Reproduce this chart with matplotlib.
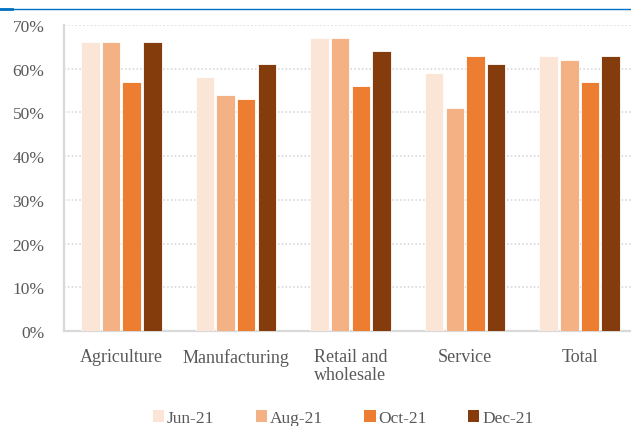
import matplotlib
matplotlib.use("Agg")
import matplotlib.pyplot as plt
from matplotlib.lines import Line2D
from matplotlib.patches import Patch
import numpy as np

categories = ["Agriculture", "Manufacturing", "Retail and\nwholesale", "Service", "Total"]
series_names = ["Jun-21", "Aug-21", "Oct-21", "Dec-21"]
jun_21 = [66, 58, 67, 59, 63]
aug_21 = [66, 54, 67, 51, 62]
oct_21 = [57, 53, 56, 63, 57]
dec_21 = [66, 61, 64, 61, 63]
y_ticks = [0, 10, 20, 30, 40, 50, 60, 70]

colors = ["#FBE5D6", "#F4B183", "#ED7D31", "#843C0C"]
label_color = "#595959"
plt.rcParams["font.family"] = ["Liberation Serif", "DejaVu Serif"]

fig = plt.figure(figsize=(6.31, 4.27), dpi=100)
ax = fig.add_axes([64 / 631, 95 / 427, 573 / 631, 306 / 427])

x = np.arange(len(categories))
pitch = 0.18
width = 0.162
all_series = [jun_21, aug_21, oct_21, dec_21]
for i, (vals, col) in enumerate(zip(all_series, colors)):
    offs = (i - 1.5) * pitch
    ax.bar(x + offs, vals, width=width, color=col, edgecolor="white",
           linewidth=0.6, zorder=3)

ax.set_xlim(-0.5, len(categories) - 0.5)
ax.set_ylim(0, 70)
ax.set_yticks(y_ticks)
ax.set_yticklabels([f"{t}%" for t in y_ticks])
ax.set_xticks(x)
ax.set_xticklabels(categories, linespacing=1.1, multialignment="center")

ax.yaxis.grid(True, linestyle=(0, (1, 1.5)), color="#D3D3D3", linewidth=1.1, zorder=0)
ax.set_axisbelow(True)
for s in ["top", "right"]:
    ax.spines[s].set_visible(False)
for s in ["left", "bottom"]:
    ax.spines[s].set_color("#D9D9D9")
    ax.spines[s].set_linewidth(1.6)

ax.tick_params(axis="y", length=0, labelsize=12.5, labelcolor=label_color, pad=14)
ax.tick_params(axis="x", length=0, labelsize=13, labelcolor=label_color, pad=12)

handles = [Patch(facecolor=c, edgecolor="none") for c in colors]
fig.legend(handles, series_names, loc="center", bbox_to_anchor=(343 / 631, 1 - 419 / 427),
           ncol=4, frameon=False, fontsize=12.5, handlelength=0.65, handleheight=0.65,
           handletextpad=0.15, columnspacing=2.4, labelcolor=label_color)

# header rule across the top
fig.add_artist(Line2D([0, 1], [1 - 9.5 / 427] * 2, color="#0070C0", linewidth=1.0,
                      transform=fig.transFigure))
fig.add_artist(Line2D([0, 12 / 631], [1 - 10 / 427] * 2, color="#0070C0", linewidth=2.0,
                      transform=fig.transFigure))

fig.savefig("out.png", dpi=100)
